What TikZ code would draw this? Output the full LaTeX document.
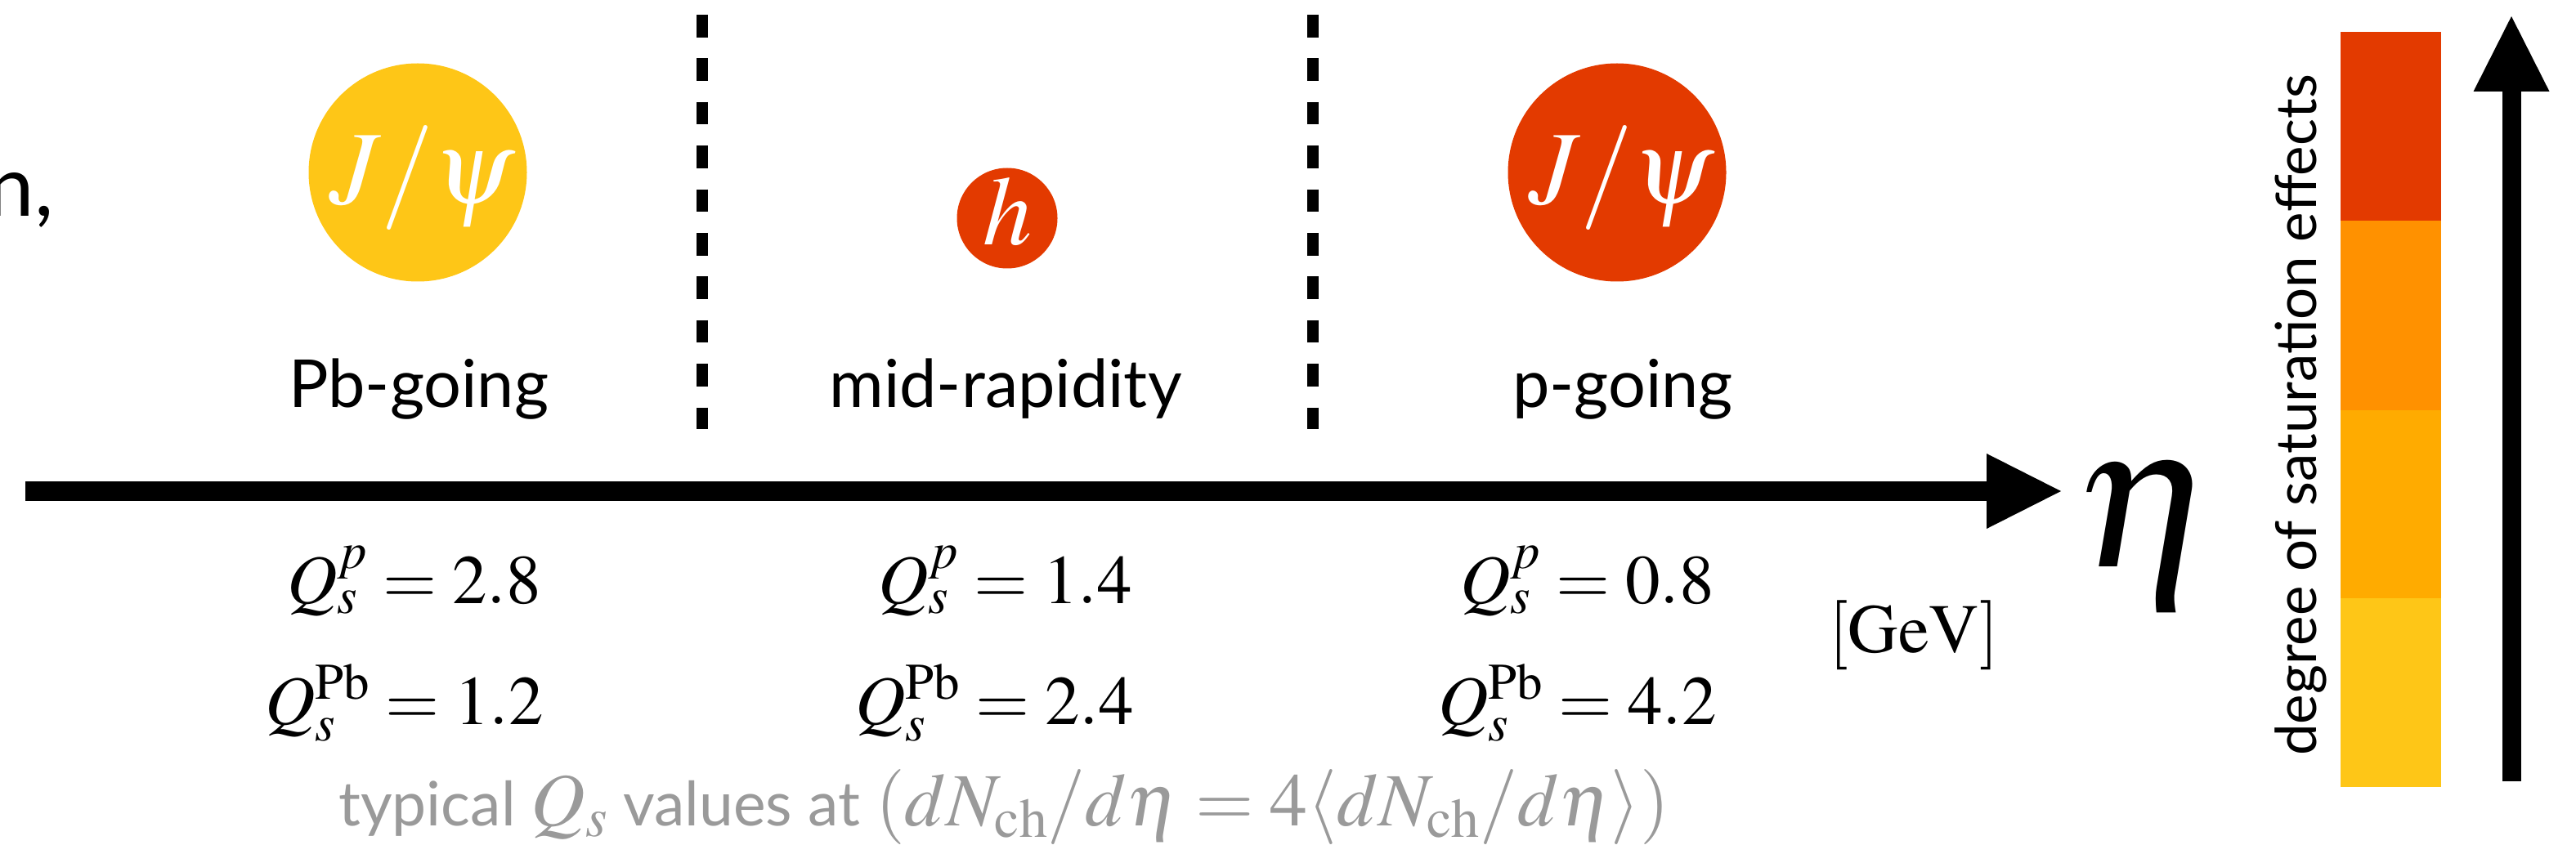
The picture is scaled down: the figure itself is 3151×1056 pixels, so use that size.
\documentclass[tikz,border=0pt]{standalone}
\usepackage[no-math]{fontspec}
\usepackage{mathptmx}
\newfontfamily\lato{Lato}
\usetikzlibrary{calc}
\definecolor{satyellow}{HTML}{FEC617}
\definecolor{satred}{HTML}{E33A00}
\definecolor{satorange}{HTML}{FF9100}
\definecolor{satamber}{HTML}{FFAB00}
\definecolor{notegrey}{HTML}{9A9A9A}
\newcommand\gmath[1]{{\fontsize{92}{100}\selectfont\(#1\)}}
\begin{document}
\begin{tikzpicture}[x=1pt,y=-1pt,
  lbl/.style={font=\lato\fontsize{81}{96}\selectfont, inner sep=0pt, anchor=base},
  eqn/.style={font=\fontsize{85}{100}\selectfont, inner sep=0pt, anchor=base east},
  dot/.style={circle, inner sep=0pt, draw=none},
  dotlbl/.style={text=white, inner sep=0pt, anchor=base},
  sepline/.style={line width=14pt, dash pattern=on 27.6pt off 25.8pt},
  axisline/.style={line width=24pt},
]
\useasboundingbox (0,0) rectangle (3151,1056);

% cut-off text at left
\node[font=\lato\fontsize{103}{120}\selectfont, anchor=base east, inner sep=0pt] (cut) at (66,265) {n,};

% particle circles
\node[dot, fill=satyellow, minimum size=267pt] (c1) at (511,211) {};
\node[dotlbl, font=\fontsize{128}{140}\selectfont] (t1) at (516,250) {\(J/\psi\)};
\node[dot, fill=satred, minimum size=123pt] (c2) at (1232,267) {};
\node[dotlbl, font=\fontsize{120}{140}\selectfont] (t2) at (1232,300) {\(h\)};
\node[dot, fill=satred, minimum size=267pt] (c3) at (1978,211) {};
\node[dotlbl, font=\fontsize{128}{140}\selectfont] (t3) at (1983,250) {\(J/\psi\)};

% region labels
\node[lbl] (l1) at (512,498) {Pb-going};
\node[lbl] (l2) at (1230,498) {mid-rapidity};
\node[lbl] (l3) at (1985,498) {p-going};

% separators
\coordinate (s1t) at (859,18);
\coordinate (s1b) at (859,525);
\coordinate (s2t) at (1606,18);
\coordinate (s2b) at (1606,525);
\draw[sepline] (s1t) -- (s1b);
\draw[sepline] (s2t) -- (s2b);

% eta axis
\coordinate (axL) at (31,601);
\coordinate (axB) at (2430,601);
\coordinate (axR) at (2521,601);
\draw[axisline] (axL) -- (axB);
\fill (axR) -- ($(axB)+(0,-46)$) -- ($(axB)+(0,46)$) -- cycle;
\node[font=\fontsize{254}{260}\selectfont, inner sep=0pt, anchor=base] (eta) at (2625,693) {\(\eta\)};

% saturation scales
\node[eqn] (q1p) at (662,738) {\(Q_s^{p} = 2.8\)};
\node[eqn] (q1b) at (665,886) {\(Q_s^{\mathrm{Pb}} = 1.2\)};
\node[eqn] (q2p) at (1385,738) {\(Q_s^{p} = 1.4\)};
\node[eqn] (q2b) at (1387,886) {\(Q_s^{\mathrm{Pb}} = 2.4\)};
\node[eqn] (q3p) at (2097,738) {\(Q_s^{p} = 0.8\)};
\node[eqn] (q3b) at (2100,886) {\(Q_s^{\mathrm{Pb}} = 4.2\)};
\node[font=\fontsize{85}{100}\selectfont, inner sep=0pt, anchor=base west] (gev) at (2237,798) {\(\mathrm{[GeV]}\)};

% note
\node[font=\lato\fontsize{75}{90}\selectfont, text=notegrey, inner sep=0pt, anchor=base] (note) at (1228,1010)
  {typical \gmath{Q_s} values at \gmath{(dN_{\mathrm{ch}}/d\eta = 4\langle dN_{\mathrm{ch}}/d\eta\rangle)}};

% colour bar
\fill[satyellow] (2863,731) rectangle (2986,963);
\fill[satamber] (2863,501) rectangle (2986,731.5);
\fill[satorange] (2863,270) rectangle (2986,501.5);
\fill[satred] (2863,39) rectangle (2986,270.5);
\node[font=\lato\fontsize{69}{80}\selectfont, rotate=90, inner sep=0pt, anchor=base] (deg) at (2833,508) {degree of saturation effects};

% vertical arrow
\coordinate (vaL) at (3072,956);
\coordinate (vaB) at (3072,112);
\coordinate (vaT) at (3072,20);
\draw[line width=23pt] (vaL) -- (vaB);
\fill (vaT) -- ($(vaB)+(-46.5,0)$) -- ($(vaB)+(46.5,0)$) -- cycle;
\end{tikzpicture}
\end{document}
